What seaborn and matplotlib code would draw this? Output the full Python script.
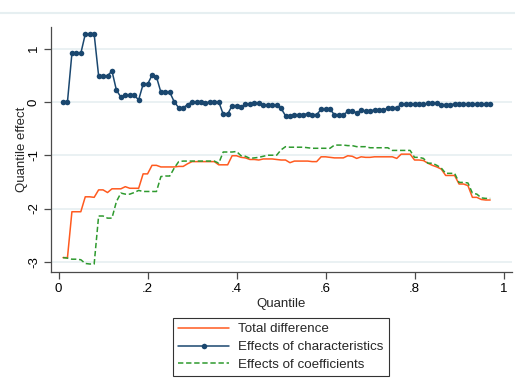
import numpy as np
import pandas as pd
import matplotlib
matplotlib.use("Agg")
import matplotlib.pyplot as plt
import seaborn as sns
from matplotlib.lines import Line2D

quantiles = [round(0.01 * i, 2) for i in range(1, 98)]

total_difference = [
    -2.92, -2.92, -2.06, -2.06, -2.06, -1.78, -1.78, -1.79, -1.65, -1.65,
    -1.70, -1.63, -1.63, -1.63, -1.59, -1.62, -1.62, -1.62, -1.35, -1.35,
    -1.19, -1.19, -1.22, -1.22, -1.22, -1.22, -1.21, -1.21, -1.16, -1.12,
    -1.12, -1.12, -1.12, -1.12, -1.12, -1.18, -1.18, -1.18, -1.01, -1.01,
    -1.04, -1.05, -1.08, -1.08, -1.09, -1.07, -1.07, -1.07, -1.08, -1.09,
    -1.09, -1.14, -1.11, -1.11, -1.11, -1.11, -1.12, -1.12, -1.03, -1.03,
    -1.04, -1.05, -1.05, -1.05, -1.01, -1.02, -1.06, -1.03, -1.04, -1.04,
    -1.03, -1.03, -1.03, -1.03, -1.03, -1.06, -0.98, -0.98, -0.98, -1.09,
    -1.09, -1.10, -1.15, -1.19, -1.22, -1.26, -1.38, -1.38, -1.38, -1.54,
    -1.54, -1.57, -1.79, -1.79, -1.83, -1.84, -1.84,
]

effects_characteristics = [
    0.00, 0.00, 0.91, 0.91, 0.91, 1.27, 1.27, 1.27, 0.49, 0.49,
    0.49, 0.58, 0.22, 0.09, 0.12, 0.12, 0.12, 0.04, 0.33, 0.33,
    0.50, 0.47, 0.18, 0.18, 0.18, 0.00, -0.11, -0.11, -0.05, 0.00,
    0.00, 0.00, -0.02, 0.00, 0.00, 0.00, -0.23, -0.23, -0.07, -0.07,
    -0.10, -0.04, -0.04, -0.02, -0.02, -0.06, -0.06, -0.06, -0.06, -0.12,
    -0.26, -0.27, -0.24, -0.24, -0.24, -0.22, -0.24, -0.24, -0.14, -0.14,
    -0.14, -0.24, -0.24, -0.24, -0.18, -0.18, -0.20, -0.16, -0.17, -0.17,
    -0.15, -0.15, -0.15, -0.12, -0.12, -0.12, -0.04, -0.04, -0.04, -0.04,
    -0.04, -0.04, -0.03, -0.02, -0.03, -0.05, -0.05, -0.05, -0.04, -0.04,
    -0.04, -0.04, -0.04, -0.04, -0.04, -0.04, -0.04,
]

effects_coefficients = [
    -2.92, -2.93, -2.95, -2.95, -2.96, -3.03, -3.04, -3.04, -2.14, -2.14,
    -2.18, -2.18, -1.87, -1.71, -1.73, -1.73, -1.70, -1.66, -1.68, -1.68,
    -1.68, -1.68, -1.40, -1.39, -1.39, -1.24, -1.12, -1.11, -1.11, -1.11,
    -1.11, -1.11, -1.11, -1.11, -1.11, -1.15, -0.94, -0.94, -0.94, -0.93,
    -1.01, -1.02, -1.06, -1.05, -1.04, -1.02, -1.00, -1.00, -1.00, -0.90,
    -0.84, -0.85, -0.85, -0.85, -0.85, -0.86, -0.87, -0.87, -0.87, -0.87,
    -0.87, -0.81, -0.81, -0.81, -0.82, -0.82, -0.84, -0.84, -0.84, -0.86,
    -0.86, -0.86, -0.86, -0.86, -0.91, -0.91, -0.91, -0.91, -0.91, -1.04,
    -1.04, -1.06, -1.15, -1.15, -1.19, -1.24, -1.34, -1.34, -1.34, -1.51,
    -1.51, -1.52, -1.71, -1.73, -1.80, -1.81, -1.81,
]

x_ticks = [0, 0.2, 0.4, 0.6, 0.8, 1.0]
x_ticklabels = ["0", ".2", ".4", ".6", ".8", "1"]
y_ticks = [-3, -2, -1, 0, 1]
y_ticklabels = ["-3", "-2", "-1", "0", "1"]
labels = ["Total difference", "Effects of characteristics", "Effects of coefficients"]

df = pd.DataFrame({
    "q": quantiles,
    "total": total_difference,
    "chars": effects_characteristics,
    "coefs": effects_coefficients,
})

sns.set_theme(style="white")
plt.rcParams["font.family"] = ["Liberation Sans", "DejaVu Sans"]

c_orange = "#ff5a1f"
c_blue = "#1a476f"
c_green = "#2e9a2e"
grid_c = "#e6eff1"
axis_c = "#4a4a4a"

fig = plt.figure(figsize=(5.15, 3.88), dpi=100)
ax = fig.add_axes([51 / 515, 1 - 272 / 388, (512 - 51) / 515, (272 - 26.7) / 388])

# frame line at top (graph region border)
fig.add_artist(Line2D([0, 1], [1 - 12.5 / 388] * 2, transform=fig.transFigure,
                      color=grid_c, lw=1.5))

for yv in y_ticks:
    ax.axhline(yv, color=grid_c, lw=1.2, zorder=0)

sns.lineplot(data=df, x="q", y="total", ax=ax, color=c_orange, lw=1.1, zorder=3)
sns.lineplot(data=df, x="q", y="chars", ax=ax, color=c_blue, lw=1.1,
             marker="o", markersize=4, markeredgewidth=0, zorder=4)
sns.lineplot(data=df, x="q", y="coefs", ax=ax, color=c_green, lw=1.1,
             linestyle=(0, (3.5, 1.8)), zorder=5)

ax.set_xlim(-0.017, 1.019)
ax.set_ylim(-3.19, 1.41)
ax.set_xticks(x_ticks)
ax.set_xticklabels(x_ticklabels)
ax.set_yticks(y_ticks)
ax.set_yticklabels(y_ticklabels, rotation=90, va="center")
ax.tick_params(axis="both", which="both", direction="out", length=5, width=0.9,
               color=axis_c, labelsize=9.5, labelcolor="black", pad=3)
ax.tick_params(axis="x", bottom=True)
ax.tick_params(axis="y", left=True)
for s in ["top", "right"]:
    ax.spines[s].set_visible(False)
for s in ["left", "bottom"]:
    ax.spines[s].set_color(axis_c)
    ax.spines[s].set_linewidth(0.9)

ax.set_xlabel("Quantile", fontsize=9.5, labelpad=2)
ax.set_ylabel("Quantile effect", fontsize=9.5, labelpad=0)

handles = [
    Line2D([], [], color=c_orange, lw=1.1),
    Line2D([], [], color=c_blue, lw=1.1, marker="o", markersize=4, markeredgewidth=0),
    Line2D([], [], color=c_green, lw=1.1, linestyle=(0, (3.5, 1.8))),
]
leg = fig.legend(handles, labels, loc="center", bbox_to_anchor=(281 / 515, 1 - 347 / 388),
                 frameon=True, fancybox=False, fontsize=9.6, handlelength=3.8,
                 handletextpad=0.7, borderpad=0.4, labelspacing=0.4, borderaxespad=0)
leg.get_frame().set_edgecolor("black")
leg.get_frame().set_linewidth(0.8)

fig.savefig("out.png", dpi=100)
